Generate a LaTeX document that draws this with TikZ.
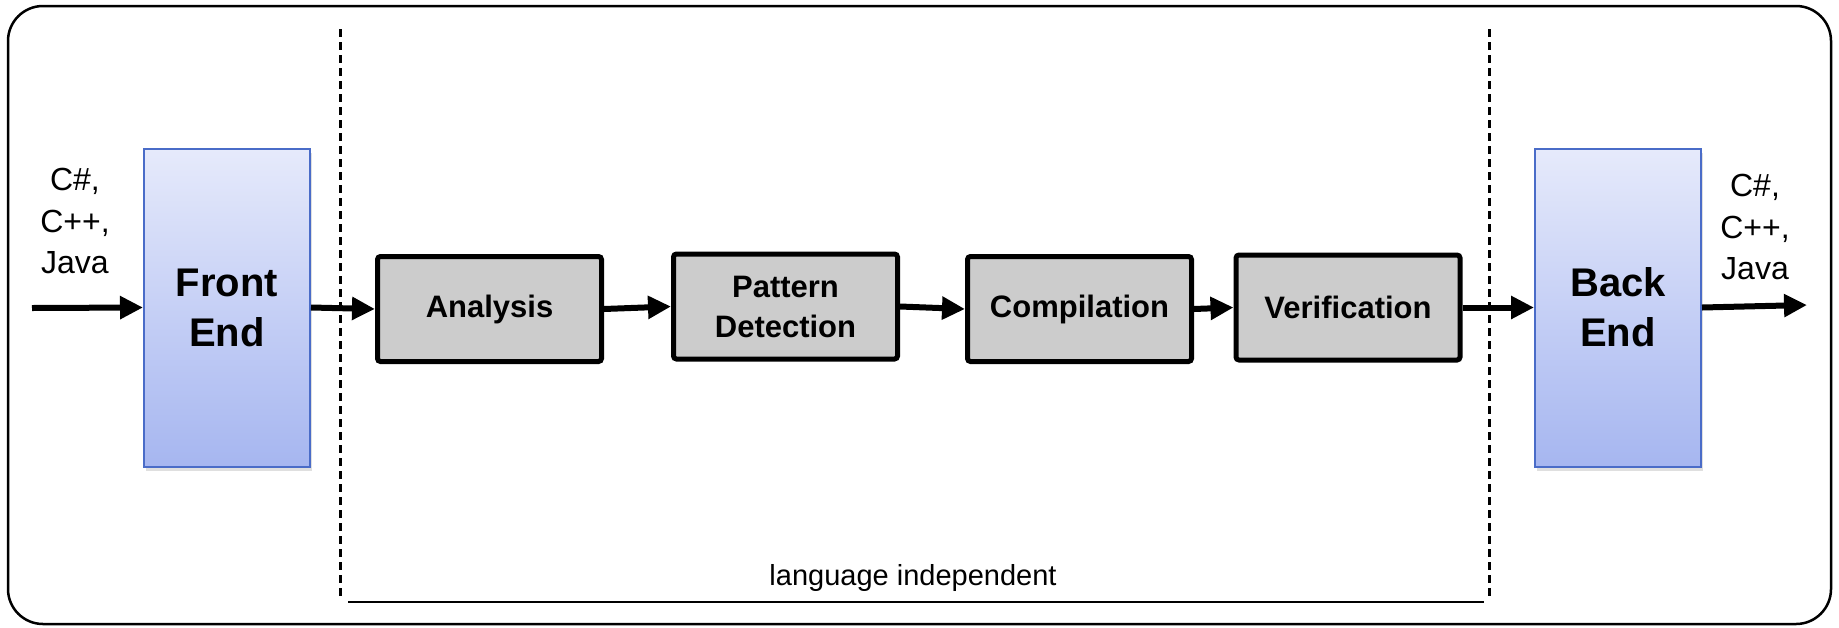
\documentclass[tikz,border=0pt]{standalone}
\usepackage{fontspec}
\setmainfont{Liberation Sans}
\usetikzlibrary{arrows.meta,shadows}
\definecolor{endtop}{RGB}{230,234,251}
\definecolor{endbot}{RGB}{166,182,240}
\definecolor{endline}{RGB}{74,108,200}
\definecolor{stagefill}{RGB}{204,204,204}
\tikzset{
	endbox/.style={draw=endline,line width=1pt,top color=endtop,bottom color=endbot,
		minimum width=83pt,minimum height=159pt,align=center,
		font=\fontsize{20}{25}\selectfont\bfseries,
		drop shadow={shadow xshift=1pt,shadow yshift=-2pt,opacity=0.25}},
	stagebox/.style={draw,line width=2.5pt,fill=stagefill,rounded corners=1.5pt,
		minimum width=112pt,minimum height=52.5pt,align=center,
		font=\fontsize{15.5}{20}\selectfont\bfseries},
	langlabel/.style={align=center,font=\fontsize{16}{20.75}\selectfont},
	flow/.style={line width=3pt,-{Triangle[length=11.5pt,width=11pt]}},
	divider/.style={line width=1.5pt,dash pattern=on 4pt off 2.5pt}
}
\begin{document}
\begin{tikzpicture}[x=0.5pt,y=-0.5pt]
\useasboundingbox (0,0) rectangle (1839,627);
\draw[line width=1.25pt,rounded corners=17.5pt] (8,6) rectangle (1831,624);

\node[endbox] (front) at (227,307.5) {Front\\End};
\node[endbox] (back) at (1618,307.5) {Back\\End};

\node[stagebox] (analysis) at (489.5,309) {Analysis};
\node[stagebox] (pattern) at (785.5,306.5) {Pattern\\Detection};
\node[stagebox] (compilation) at (1079.5,309) {Compilation};
\node[stagebox] (verification) at (1348,307.5) {Verification};

\node[langlabel] (srcin) at (75,221) {C\#,\\C++,\\Java};
\node[langlabel] (srcout) at (1755,227) {C\#,\\C++,\\Java};

\coordinate (in) at (32,308);
\coordinate (out) at (1807,305);

\coordinate (divtopl) at (340,29);
\coordinate (divbotl) at (340,596);
\coordinate (divtopr) at (1489,29);
\coordinate (divbotr) at (1489,596);
\draw[divider] (divtopl) -- (divbotl);
\draw[divider] (divtopr) -- (divbotr);

\coordinate (spanl) at (348,602);
\coordinate (spanr) at (1484,602);
\draw[line width=1pt] (spanl) -- (spanr);
\node[anchor=base,font=\fontsize{14.5}{17}\selectfont] (indep) at (913,585) {language independent};

\draw[flow] (in) -- (front.west);
\draw[flow] (front.east) -- (analysis.west);
\draw[flow] (analysis.east) -- (pattern.west);
\draw[flow] (pattern.east) -- (compilation.west);
\draw[flow] (compilation.east) -- (verification.west);
\draw[flow] (verification.east) -- (back.west);
\draw[flow] (back.east) -- (out);
\end{tikzpicture}
\end{document}
